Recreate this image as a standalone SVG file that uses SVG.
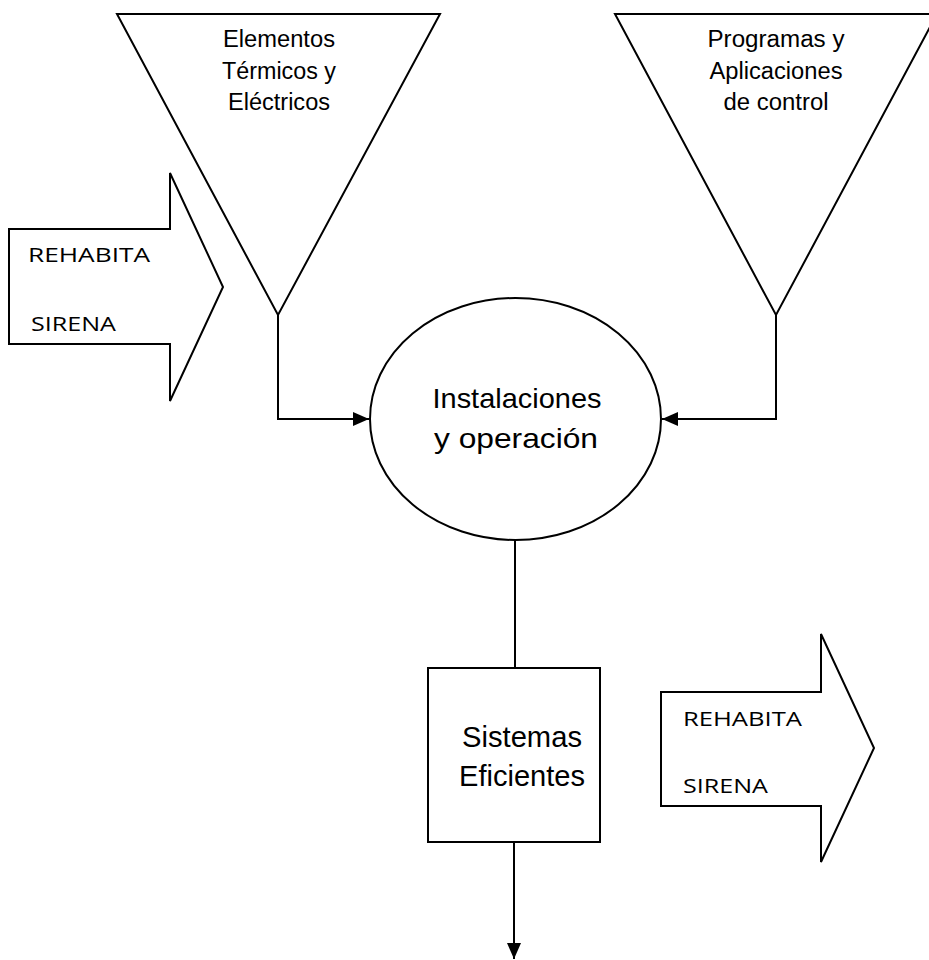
<svg xmlns="http://www.w3.org/2000/svg" width="929" height="960" viewBox="0 0 929 960">
<defs>
<style>
.s{fill:#fff;stroke:#000;stroke-width:2;stroke-linejoin:miter}
.c{fill:none;stroke:#000;stroke-width:2}
.a{font-family:"Liberation Sans",Arial,sans-serif;fill:#000;text-anchor:middle}
.b{font-family:"Open Sans","Noto Sans",sans-serif;fill:#000}
</style>
<marker id="ah" markerWidth="8" markerHeight="7" refX="8" refY="3.5" orient="auto" markerUnits="strokeWidth">
<path d="M0,0 L8,3.5 L0,7 Z" fill="#000"/>
</marker>
</defs>
<rect width="929" height="960" fill="#fff"/>
<g id="connectors">
<polyline class="c" points="278,315 278,419 369,419" marker-end="url(#ah)"/>
<polyline class="c" points="776,315 776,419 662,419" marker-end="url(#ah)"/>
<line class="c" x1="515" y1="540" x2="515" y2="668"/>
<line class="c" x1="514" y1="842" x2="514" y2="959" marker-end="url(#ah)"/>
</g>
<g id="tri-left">
<polygon class="s" points="117,14 440,14 278,315"/>
<text class="a" font-size="23" x="279" y="47" textLength="112" lengthAdjust="spacingAndGlyphs">Elementos</text>
<text class="a" font-size="23" x="279" y="79" textLength="114" lengthAdjust="spacingAndGlyphs">Térmicos y</text>
<text class="a" font-size="23" x="279" y="110" textLength="102" lengthAdjust="spacingAndGlyphs">Eléctricos</text>
</g>
<g id="tri-right">
<polygon class="s" points="615,14 937,14 776,315"/>
<text class="a" font-size="23" x="776" y="47" textLength="137" lengthAdjust="spacingAndGlyphs">Programas y</text>
<text class="a" font-size="23" x="776" y="79" textLength="133" lengthAdjust="spacingAndGlyphs">Aplicaciones</text>
<text class="a" font-size="23" x="776" y="110" textLength="105" lengthAdjust="spacingAndGlyphs">de control</text>
</g>
<g id="arrow-left">
<polygon class="s" points="9,229 170,229 170,173 223,287 170,401 170,344 9,344"/>
<text class="b" font-size="20" x="28" y="262" textLength="122" lengthAdjust="spacingAndGlyphs">REHABITA</text>
<text class="b" font-size="20" x="31" y="331" textLength="85" lengthAdjust="spacingAndGlyphs">SIRENA</text>
</g>
<g id="ellipse">
<ellipse class="s" cx="515.5" cy="419" rx="145.5" ry="121"/>
<text class="a" font-size="28.5" x="517" y="408" textLength="169" lengthAdjust="spacingAndGlyphs">Instalaciones</text>
<text class="a" font-size="28.5" x="516" y="448" textLength="164" lengthAdjust="spacingAndGlyphs">y operación</text>
</g>
<g id="rect">
<rect class="s" x="428" y="668" width="172" height="174"/>
<text class="a" font-size="29" x="522" y="747" textLength="120" lengthAdjust="spacingAndGlyphs">Sistemas</text>
<text class="a" font-size="29" x="522" y="786" textLength="126" lengthAdjust="spacingAndGlyphs">Eficientes</text>
</g>
<g id="arrow-right">
<polygon class="s" points="661,692 821,692 821,634 874,748 821,862 821,806 661,806"/>
<text class="b" font-size="20" x="683" y="726" textLength="119" lengthAdjust="spacingAndGlyphs">REHABITA</text>
<text class="b" font-size="20" x="683" y="793" textLength="85" lengthAdjust="spacingAndGlyphs">SIRENA</text>
</g>
</svg>
